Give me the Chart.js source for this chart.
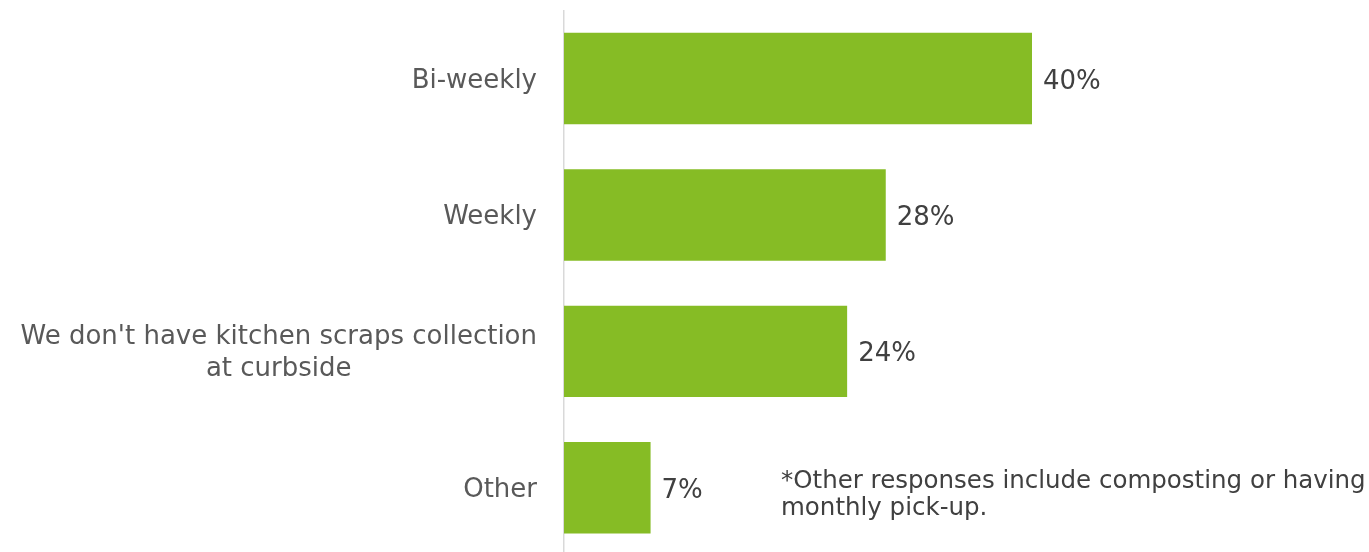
<!DOCTYPE html>
<html>
<head>
<meta charset="utf-8">
<script src="https://cdn.jsdelivr.net/npm/chart.js@4/dist/chart.umd.min.js"></script>
<style>
  html, body { margin: 0; padding: 0; background: #fff; overflow: hidden; }
  #wrap { width: 1369px; height: 552px; position: relative; overflow: hidden; }
</style>
</head>
<body>
<div id="wrap"><canvas id="pickupChart" width="1369" height="556"></canvas></div>
<script>
// Données
const categories = [
    'Bi-weekly',
    'Weekly',
    ["We don't have kitchen scraps collection", 'at curbside'],
    'Other'
];
const shares = [40.0, 27.5, 24.2, 7.4];
const footnoteLines = [
    '*Other responses include composting or having',
    'monthly pick-up.'
];

const FONT = "'DejaVu Sans', Verdana, sans-serif";

// Libellés des catégories (lignes centrées entre elles) + valeurs + note
const labelsPlugin = {
    id: 'labelsPlugin',
    afterDatasetsDraw(chart) {
        const ctx = chart.ctx;
        const y = chart.scales.y;
        const meta = chart.getDatasetMeta(0);
        ctx.save();
        ctx.textBaseline = 'alphabetic';

        // catégories
        ctx.font = '26px ' + FONT;
        ctx.fillStyle = '#595959';
        const right = y.right - 27;
        categories.forEach((cat, i) => {
            const lines = Array.isArray(cat) ? cat : [cat];
            const cy = y.getPixelForValue(i);
            const maxW = Math.max(...lines.map(l => ctx.measureText(l).width));
            const lh = 32;
            const top = cy - (lines.length - 1) * lh / 2 + 9;
            ctx.textAlign = 'center';
            lines.forEach((l, k) => {
                ctx.fillText(l, right - maxW / 2, top + k * lh);
            });
        });

        // valeurs
        ctx.font = '26px ' + FONT;
        ctx.fillStyle = '#404040';
        ctx.textAlign = 'left';
        meta.data.forEach((bar, i) => {
            ctx.fillText(Math.round(shares[i]) + '%', bar.x + 11, bar.y + 10);
        });

        // note de bas de page
        ctx.font = '24.5px ' + FONT;
        ctx.fillStyle = '#404040';
        footnoteLines.forEach((l, k) => {
            ctx.fillText(l, 781, 488 + k * 27);
        });
        ctx.restore();
    }
};

new Chart(document.getElementById('pickupChart'), {
    type: 'bar',
    data: {
        labels: categories,
        datasets: [{
            data: shares,
            backgroundColor: '#86bc25',
            borderWidth: 0,
            barPercentage: 0.67,
            categoryPercentage: 1
        }]
    },
    options: {
        indexAxis: 'y',
        responsive: false,
        animation: false,
        layout: {
            padding: { left: 0, right: 220, top: 10.3, bottom: 0 }
        },
        plugins: {
            legend: { display: false },
            tooltip: { enabled: false }
        },
        scales: {
            x: {
                display: false,
                min: 0,
                max: 50
            },
            y: {
                grid: { display: false, drawTicks: false },
                border: { display: true, color: '#d9d9d9', width: 1.5 },
                ticks: { display: false },
                afterFit(scale) { scale.width = 564; }
            }
        }
    },
    plugins: [labelsPlugin]
});
</script>
</body>
</html>
